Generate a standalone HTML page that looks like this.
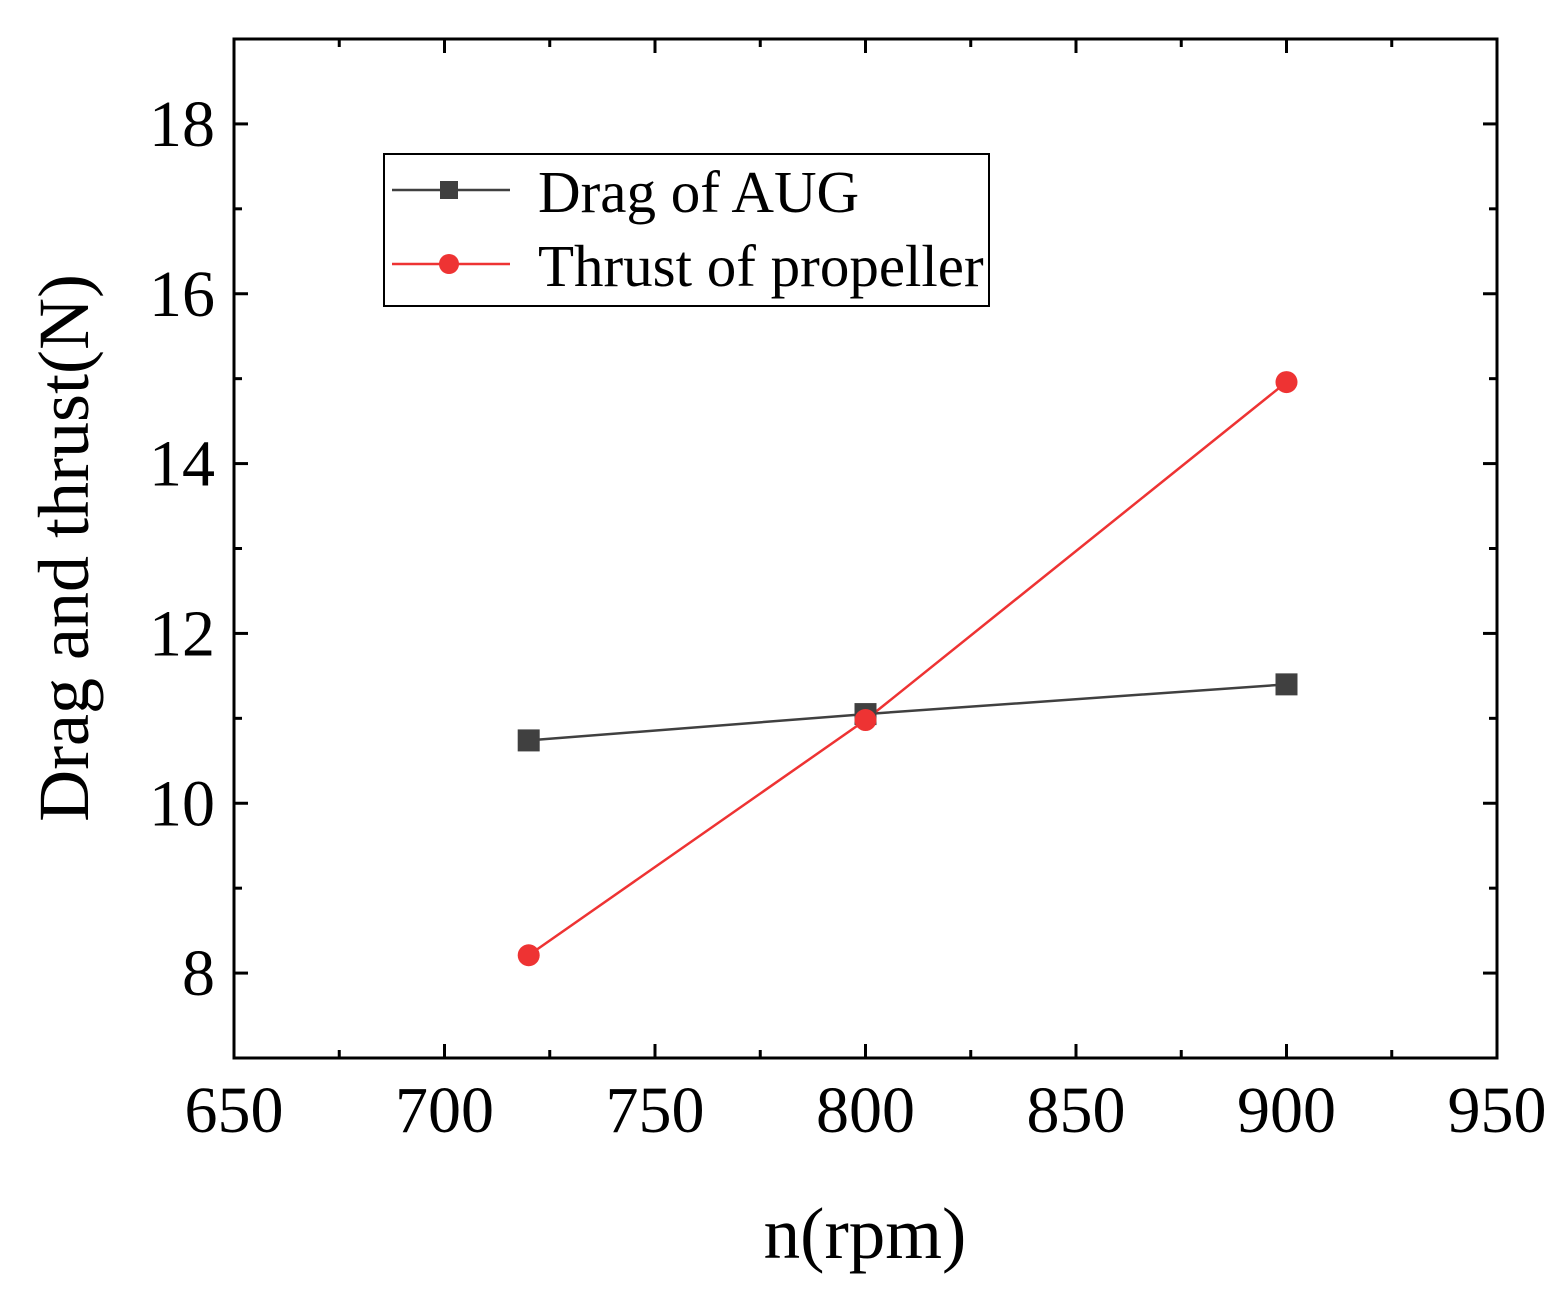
<!DOCTYPE html>
<html><head><meta charset="utf-8"><style>
html,body{margin:0;padding:0;background:#fff;}
svg{display:block;font-family:"Liberation Serif",serif;}
</style></head><body>
<svg id="chart" width="1567" height="1297" viewBox="0 0 1567 1297" xmlns="http://www.w3.org/2000/svg">
<g id="axes"></g>
<g id="series"></g>
<text x="865" y="1258" font-size="73" text-anchor="middle">n(rpm)</text>
<text transform="translate(88,548) rotate(-90)" font-size="72" text-anchor="middle">Drag and thrust(N)</text>
<g>
<rect x="384" y="154" width="605" height="152" fill="#fff" stroke="#000" stroke-width="2"/>
<line x1="392" y1="190" x2="510" y2="190" stroke="#404040" stroke-width="2.5"/>
<rect x="440" y="181" width="18" height="18" fill="#404040"/>
<text x="538" y="212" font-size="59">Drag of AUG</text>
<line x1="392" y1="264" x2="510" y2="264" stroke="#ee3333" stroke-width="2.5"/>
<circle cx="449" cy="264" r="10" fill="#ee3333"/>
<text x="538" y="286" font-size="59">Thrust of propeller</text>
</g>
</svg>
<script>
const xTicks=[650,700,750,800,850,900,950];
const yTicks=[8,10,12,14,16,18];
const rpm=[720,800,900];
const dragValues=[10.74,11.05,11.40];
const thrustValues=[8.21,10.98,14.96];
const NS="http://www.w3.org/2000/svg";
const L=234,R=1497,T=39,B=1058;
const xs=v=>L+(v-650)/300*(R-L);
const ys=v=>B-(v-7)/12*(B-T);
const ax=document.getElementById('axes'), se=document.getElementById('series');
function mk(tag,attrs,parent){const e=document.createElementNS(NS,tag);for(const k in attrs)e.setAttribute(k,attrs[k]);parent.appendChild(e);return e;}
const frame=mk('rect',{x:L,y:T,width:R-L,height:B-T,fill:'none',stroke:'#000','stroke-width':3},ax);


for(let i=0;i<xTicks.length;i++){
 const v=xTicks[i],x=xs(v);
 mk('line',{x1:x,y1:B,x2:x,y2:B-14,stroke:'#000','stroke-width':3},ax);
 mk('line',{x1:x,y1:T,x2:x,y2:T+14,stroke:'#000','stroke-width':3},ax);
 if(i<xTicks.length-1){const xm=xs(v+25);
  mk('line',{x1:xm,y1:B,x2:xm,y2:B-8,stroke:'#000','stroke-width':3},ax);
  mk('line',{x1:xm,y1:T,x2:xm,y2:T+8,stroke:'#000','stroke-width':3},ax);}
 const t=mk('text',{x:x,y:1132,'font-size':66,'text-anchor':'middle'},ax);
 t.textContent=v;
 
 
}
for(let v=7;v<=19;v++){
 const y=ys(v),major=yTicks.includes(v),len=major?14:8;
 mk('line',{x1:L,y1:y,x2:L+len,y2:y,stroke:'#000','stroke-width':3},ax);
 mk('line',{x1:R,y1:y,x2:R-len,y2:y,stroke:'#000','stroke-width':3},ax);
}
for(const v of yTicks){
 const t=mk('text',{x:215,y:ys(v)+22,'font-size':66,'text-anchor':'end'},ax);
 t.textContent=v;
 
 
}
function line(vals,color,name){
 const p=mk('polyline',{points:rpm.map((r,i)=>xs(r)+','+ys(vals[i])).join(' '),fill:'none',stroke:color,'stroke-width':2.5},se);
 
 
}
line(dragValues,'#404040','drag');
line(thrustValues,'#ee3333','thrust');
rpm.forEach((r,i)=>{
 const m=mk('rect',{x:xs(r)-11,y:ys(dragValues[i])-11,width:22,height:22,fill:'#404040'},se);
 
 
});
rpm.forEach((r,i)=>{
 const c=mk('circle',{cx:xs(r),cy:ys(thrustValues[i]),r:11,fill:'#ee3333'},se);
 
 
});
</script>
</body></html>
